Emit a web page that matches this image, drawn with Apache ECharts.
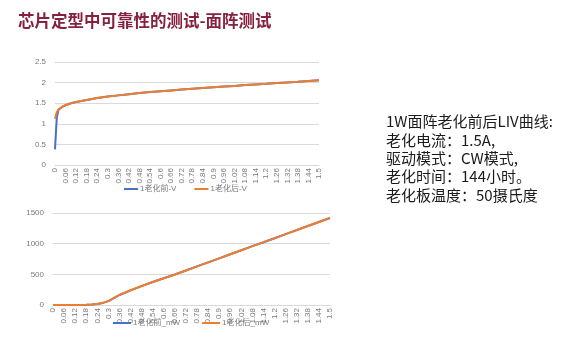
<!DOCTYPE html>
<html>
<head>
<meta charset="utf-8">
<script src="https://cdn.jsdelivr.net/npm/echarts@6/dist/echarts.min.js"></script>
<style>
  html, body { margin: 0; padding: 0; background: #ffffff; }
  #chart { width: 570px; height: 339px; }
</style>
</head>
<body>
<div id="chart"></div>
<script>
// Drive current (A) at each sample of the voltage curves
const currentV = [0, 0.01, 0.02, 0.03, 0.04, 0.06, 0.09, 0.12, 0.18, 0.24, 0.3, 0.36, 0.42, 0.48, 0.54, 0.6, 0.66, 0.72, 0.78, 0.84, 0.9, 0.96, 1.02, 1.08, 1.14, 1.2, 1.26, 1.32, 1.38, 1.44, 1.5];
// Forward voltage (V) before / after aging
const voltBefore = [0.38, 1.15, 1.34, 1.38, 1.41, 1.45, 1.50, 1.53, 1.58, 1.625, 1.66, 1.69, 1.72, 1.745, 1.77, 1.79, 1.81, 1.83, 1.85, 1.87, 1.89, 1.905, 1.92, 1.94, 1.955, 1.97, 1.99, 2.005, 2.02, 2.04, 2.055];
const voltAfter  = [1.12, 1.28, 1.35, 1.385, 1.41, 1.45, 1.50, 1.53, 1.58, 1.625, 1.66, 1.69, 1.72, 1.745, 1.77, 1.79, 1.81, 1.83, 1.85, 1.87, 1.89, 1.905, 1.92, 1.94, 1.955, 1.97, 1.99, 2.005, 2.02, 2.04, 2.055];

// Drive current (A) at each sample of the optical power curves
const currentP = [0, 0.06, 0.12, 0.18, 0.21, 0.24, 0.27, 0.3, 0.33, 0.36, 0.42, 0.48, 0.54, 0.6, 0.66, 0.72, 0.78, 0.84, 0.9, 0.96, 1.02, 1.08, 1.14, 1.2, 1.26, 1.32, 1.38, 1.44, 1.5];
// Optical power (mW) before / after aging
const powerBefore = [0, 1, 2, 5, 9, 17, 34, 63, 112, 163, 238, 308, 374, 436, 497, 563, 629, 695, 761, 827, 893, 959, 1024, 1089, 1155, 1221, 1287, 1353, 1418];
const powerAfter  = [0, 1, 2, 6, 10, 18, 35, 65, 115, 165, 240, 310, 375, 436, 497, 563, 629, 695, 761, 827, 893, 959, 1025, 1090, 1156, 1222, 1288, 1354, 1420];

// Axis ticks
const xTickStep = 0.06;
const xMax = 1.5;
const voltTicks = { min: 0, max: 2.5, step: 0.5 };
const powerTicks = { min: 0, max: 1500, step: 500 };

// Series names
const seriesNames = ['1老化前-V', '1老化后-V', '1老化前_mW', '1老化后_mW'];

// Text block on the right
const notes = [
  '1W面阵老化前后LIV曲线:',
  '老化电流：1.5A,',
  '驱动模式：CW模式,',
  '老化时间：144小时。',
  '老化板温度：50摄氏度'
];
const titleText = '芯片定型中可靠性的测试-面阵测试';

const pair = (xs, ys) => xs.map((x, i) => [x, ys[i]]);

const blue = '#4472C4';
const orange = '#ED7D31';
const labelColor = '#7a7a7a';
const gridColor = '#d9d9d9';
const baseFont = '"Liberation Sans", "Noto Sans CJK SC", sans-serif';

function xAxisCfg(gridIndex) {
  return {
    type: 'value', gridIndex, min: 0, max: xMax, interval: xTickStep,
    axisLine: { show: true, lineStyle: { color: gridColor } },
    axisTick: { show: false },
    splitLine: { show: false },
    axisLabel: { rotate: 90, fontSize: 8, color: labelColor, fontFamily: baseFont, margin: 3,
                 showMinLabel: true, showMaxLabel: true, hideOverlap: false,
                 formatter: v => String(+v.toFixed(2)) }
  };
}
function yAxisCfg(gridIndex, t) {
  return {
    type: 'value', gridIndex, min: t.min, max: t.max, interval: t.step,
    axisLine: { show: false }, axisTick: { show: false },
    splitLine: { show: true, lineStyle: { color: gridColor, width: 1 } },
    axisLabel: { fontSize: 8, color: labelColor, fontFamily: baseFont, margin: 9,
                 formatter: v => String(v) }
  };
}
function lineSeries(name, data, color, xi, z) {
  return {
    name, type: 'line', xAxisIndex: xi, yAxisIndex: xi, data,
    showSymbol: false, symbol: 'none', smooth: false, z,
    lineStyle: { color, width: 2 }, itemStyle: { color },
    animation: false
  };
}

const chart = echarts.init(document.getElementById('chart'), null, { renderer: 'canvas' });
chart.setOption({
  backgroundColor: '#ffffff',
  animation: false,
  title: {
    text: titleText, left: 13, top: 7,
    textStyle: { color: '#85203F', fontSize: 16.5, fontWeight: 'bold', fontFamily: '"Noto Sans CJK SC", sans-serif' }
  },
  graphic: notes.map((s, i) => ({
    type: 'text', left: 386, top: 114 + i * 18.4,
    style: { text: s, fill: '#1a1a1a', fontSize: 15, fontFamily: '"Noto Sans CJK SC", sans-serif' }
  })),
  grid: [
    { left: 55, right: 251, top: 62, bottom: 174 },
    { left: 53, right: 240, top: 213, bottom: 34 }
  ],
  xAxis: [xAxisCfg(0), xAxisCfg(1)],
  yAxis: [yAxisCfg(0, voltTicks), yAxisCfg(1, powerTicks)],
  legend: [
    { data: [seriesNames[0], seriesNames[1]], left: 124, top: 185, padding: 0, itemWidth: 14, itemHeight: 2, itemGap: 18,
      icon: 'rect', textStyle: { fontSize: 8, color: labelColor, fontFamily: baseFont, padding: [0, 0, 0, -3] } },
    { data: [seriesNames[2], seriesNames[3]], left: 113, top: 319, padding: 0, itemWidth: 18, itemHeight: 2, itemGap: 22,
      icon: 'rect', textStyle: { fontSize: 8, color: labelColor, fontFamily: baseFont, padding: [0, 0, 0, -3] } }
  ],
  series: [
    lineSeries(seriesNames[0], pair(currentV, voltBefore), blue, 0, 2),
    lineSeries(seriesNames[1], pair(currentV, voltAfter), orange, 0, 3),
    lineSeries(seriesNames[2], pair(currentP, powerBefore), blue, 1, 2),
    lineSeries(seriesNames[3], pair(currentP, powerAfter), orange, 1, 3)
  ]
});
</script>
</body>
</html>
